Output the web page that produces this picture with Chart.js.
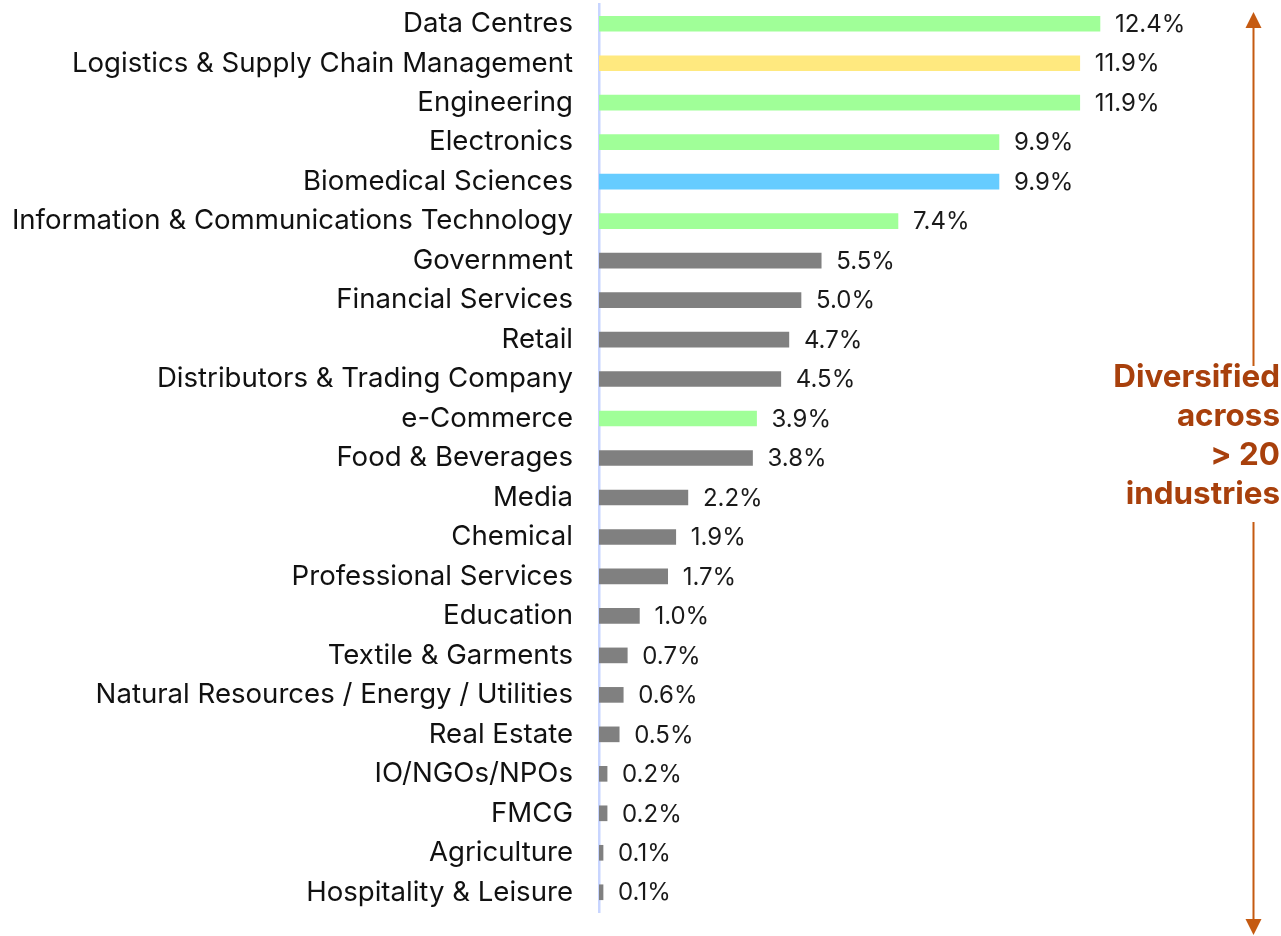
<!DOCTYPE html>
<html>
<head>
<meta charset="utf-8">
<script src="https://cdn.jsdelivr.net/npm/chart.js@4.4.0/dist/chart.umd.min.js"></script>
<style>
html,body{margin:0;padding:0;background:#fff;}
#wrap{position:relative;width:1281px;height:936px;}
</style>
</head>
<body>
<div id="wrap"><canvas id="c" width="1281" height="936"></canvas></div>
<script>
const categories = ["Data Centres","Logistics & Supply Chain Management","Engineering","Electronics","Biomedical Sciences","Information & Communications Technology","Government","Financial Services","Retail","Distributors & Trading Company","e-Commerce","Food & Beverages","Media","Chemical","Professional Services","Education","Textile & Garments","Natural Resources / Energy / Utilities","Real Estate","IO/NGOs/NPOs","FMCG","Agriculture","Hospitality & Leisure"];
const shares = [12.4,11.9,11.9,9.9,9.9,7.4,5.5,5.0,4.7,4.5,3.9,3.8,2.2,1.9,1.7,1.0,0.7,0.6,0.5,0.2,0.2,0.1,0.1];
const groups = ["green","yellow","green","green","blue","green","grey","grey","grey","grey","green","grey","grey","grey","grey","grey","grey","grey","grey","grey","grey","grey","grey"];
const groupColors = {green:"#A0FF98", yellow:"#FFE97F", blue:"#66CCFF", grey:"#808080"};
const annotationLines = ["Diversified","across","> 20","industries"];

const valueLabels = {
  id:"valueLabels",
  afterDatasetsDraw(chart){
    const ctx = chart.ctx;
    const meta = chart.getDatasetMeta(0);
    ctx.save();
    ctx.font = "24px Inter";
    ctx.fillStyle = "#1a1a1a";
    ctx.textAlign = "left";
    ctx.textBaseline = "middle";
    meta.data.forEach((bar,i)=>{
      ctx.fillText(shares[i].toFixed(1)+"%", bar.x + 15, bar.y + 1);
    });
    ctx.restore();
  }
};

const annotation = {
  id:"annotation",
  afterDraw(chart){
    const ctx = chart.ctx;
    ctx.save();
    const ax = 1253.5;
    ctx.strokeStyle = "#C55A11";
    ctx.fillStyle = "#C55A11";
    ctx.lineWidth = 2;
    ctx.beginPath();
    ctx.moveTo(ax, 26); ctx.lineTo(ax, 366);
    ctx.moveTo(ax, 522); ctx.lineTo(ax, 922);
    ctx.stroke();
    ctx.beginPath();
    ctx.moveTo(ax, 12); ctx.lineTo(ax-8, 28); ctx.lineTo(ax+8, 28); ctx.closePath(); ctx.fill();
    ctx.beginPath();
    ctx.moveTo(ax, 935); ctx.lineTo(ax-8, 919); ctx.lineTo(ax+8, 919); ctx.closePath(); ctx.fill();
    ctx.font = "bold 31.4px Inter";
    ctx.fillStyle = "#A8400C";
    ctx.textAlign = "right";
    ctx.textBaseline = "middle";
    annotationLines.forEach((t,i)=>{
      ctx.fillText(t, 1280, 378 + i*39);
    });
    ctx.restore();
  }
};

new Chart(document.getElementById("c"), {
  type:"bar",
  data:{
    labels:categories,
    datasets:[{
      data:shares,
      backgroundColor:groups.map(g=>groupColors[g]),
      barThickness:15,
      borderWidth:0
    }]
  },
  options:{
    indexAxis:"y",
    responsive:false,
    animation:false,
    layout:{padding:{top:4,bottom:24,right:76,left:0}},
    plugins:{legend:{display:false},tooltip:{enabled:false}},
    scales:{
      x:{display:false,min:0,max:15},
      y:{
        grid:{display:false,drawTicks:false},
        border:{display:true,color:"#C8D5FF",width:2.5},
        ticks:{color:"#111111",font:{family:"Inter",size:27.6},padding:26,autoSkip:false},
        afterFit(scale){scale.width = 599; scale.paddingTop = 0; scale.paddingBottom = 0;}
      }
    }
  },
  plugins:[valueLabels,annotation]
});
</script>
</body>
</html>
